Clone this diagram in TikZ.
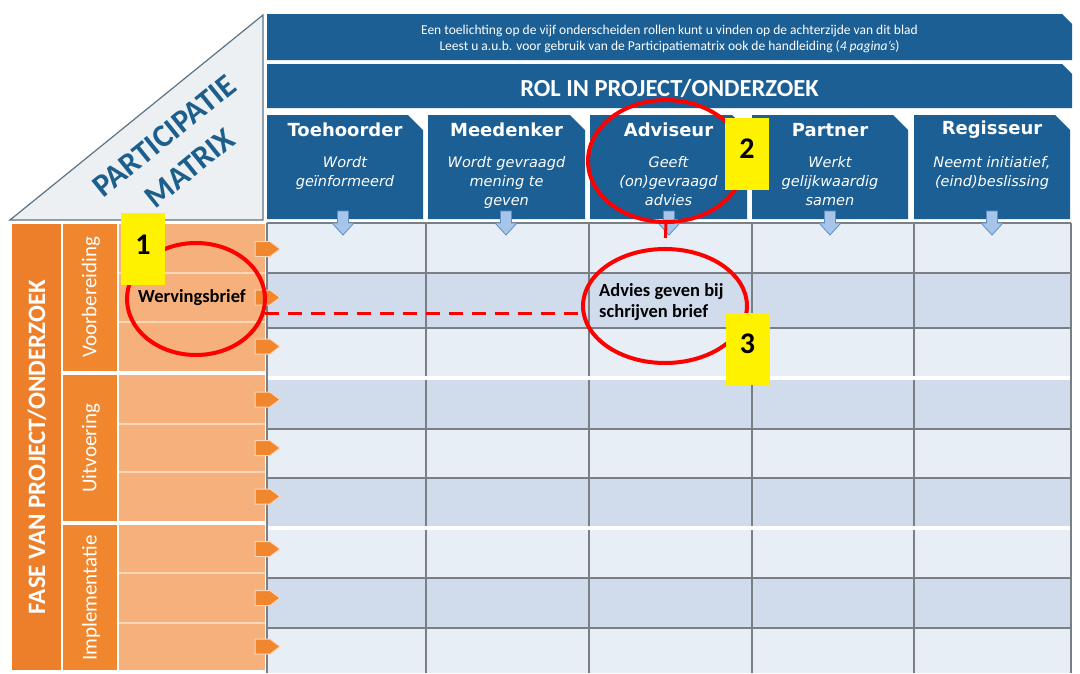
\documentclass[tikz,border=0pt]{standalone}
\usepackage{fontspec}
\setmainfont{Carlito}
\newfontfamily\vfont{DejaVu Sans}
\usetikzlibrary{shapes.geometric}
\definecolor{dblue}{HTML}{1C5F94}
\definecolor{tblue}{HTML}{1D5F8C}
\definecolor{trigray}{HTML}{EDF0F3}
\definecolor{triline}{HTML}{5A7387}
\definecolor{gl}{HTML}{E8EEF6}
\definecolor{gd}{HTML}{D0DCEC}
\definecolor{gline}{HTML}{7A7F86}
\definecolor{orA}{HTML}{EE7F2A}
\definecolor{orB}{HTML}{F0862E}
\definecolor{orL}{HTML}{F5B07C}
\definecolor{orSep}{HTML}{FAD6BA}
\definecolor{arrF}{HTML}{A7C5E8}
\definecolor{arrD}{HTML}{5C8FC7}
\tikzset{
  rolebox/.style={fill=dblue},
  roletitle/.style={text=white, font=\vfont\bfseries\fontsize{18}{20}\selectfont},
  rolesub/.style={text=white, align=center, font=\vfont\itshape\fontsize{14.5}{19}\selectfont, anchor=north, inner sep=0},
  downarr/.style={fill=arrF, draw=arrD, line width=0.8},
  orarr/.style={fill=orB, draw=orSep, line width=1},
  ring/.style={ellipse, draw=red, line width=4, inner sep=0},
  tag/.style={fill=yellow, minimum width=44, minimum height=72, inner sep=0, text height=20pt, text depth=10pt, font=\bfseries\fontsize{30}{30}\selectfont},
  redlink/.style={draw=red, line width=3, dash pattern=on 14pt off 9pt},
  vlabel/.style={rotate=90, text=white}
}
\begin{document}
\begin{tikzpicture}[x=1pt,y=-1pt]
\useasboundingbox (0,0) rectangle (1080,673);
\fill[white] (0,0) rectangle (1080,673);

% triangle
\filldraw[fill=trigray, draw=triline, line width=1.2] (10,220) -- (263,15) -- (263,220) -- cycle;
\node[rotate=39, text=tblue, align=center, inner sep=0, font=\bfseries\fontsize{32}{41}\selectfont] (pm) at (177,152) {PARTICIPATIE\\MATRIX};

% banners
\fill[dblue] (267,14) -- (1062,14) -- (1072,24) -- (1072,60) -- (267,60) -- cycle;
\node[text=white, align=center, font=\fontsize{13.5}{16}\selectfont] (note) at (669.5,38.5)
  {Een toelichting op de vijf onderscheiden rollen kunt u vinden op de achterzijde van dit blad\\
   Leest u a.u.b. voor gebruik van de Participatiematrix ook de handleiding (\textit{4 pagina's})};
\fill[dblue] (267,64) -- (1062,64) -- (1072,74) -- (1072,108) -- (267,108) -- cycle;
\node[text=white, font=\bfseries\fontsize{24.5}{26}\selectfont] (rol) at (669.5,88) {ROL IN PROJECT/ONDERZOEK};

% role boxes
\foreach \a/\b/\nm/\ti/\su in {267/423/toe/Toehoorder/{Wordt\\geïnformeerd},
    428/585/mee/Meedenker/{Wordt gevraagd\\mening te\\geven},
    590/747/adv/Adviseur/{Geeft\\(on)gevraagd\\advies},
    752/908/par/Partner/{Werkt\\gelijkwaardig\\samen},
    914/1070/reg/Regisseur/{Neemt initiatief,\\(eind)beslissing}} {
  \fill[rolebox] (\a,115) -- (\b-15,115) -- (\b,130) -- (\b,219) -- (\a,219) -- cycle;
  \node[roletitle] (\nm-t) at ({(\a+\b)/2},130) {\ti};
  \node[rolesub] (\nm-s) at ({(\a+\b)/2},156) {\su};
}

% grid
\foreach \t/\b/\c in {223/273/gl, 273/328/gd, 328/378/gl, 378/429/gd, 429/478/gl, 478/528/gd, 528/578/gl, 578/628/gd, 628/673/gl}
  \fill[\c] (267,\t) rectangle (1071,\b);
\foreach \y in {223,273,328,429,478,578,628}
  \draw[gline, line width=2] (267,\y) -- (1071,\y);
\foreach \x in {267,426,589,752,914,1071}
  \draw[gline, line width=2] (\x,223) -- (\x,673);
\foreach \y in {378,528}
  \draw[white, line width=4] (268,\y) -- (1070,\y);

% down arrows
\foreach \c in {343,506,669,830,992}
  \filldraw[downarr] (\c-5.5,211) -- (\c+5.5,211) -- (\c+5.5,223) -- (\c+11,223) -- (\c,235) -- (\c-11,223) -- (\c-5.5,223) -- cycle;

% left orange side
\fill[orA] (12,224) rectangle (61,670);
\fill[orB] (63,224) rectangle (117,371);
\fill[orB] (63,375) rectangle (117,521);
\fill[orB] (63,525) rectangle (117,670);
\fill[orL] (119,224) rectangle (265,670);
\foreach \y in {273,322,424,472,573,623}
  \draw[orSep, line width=1.5] (119,\y) -- (265,\y);
\fill[white] (119,371) rectangle (265,375);
\fill[white] (119,521) rectangle (265,525);
\node[vlabel, font=\bfseries\fontsize{25}{26}\selectfont] (fase) at (37,447) {FASE VAN PROJECT/ONDERZOEK};
\node[vlabel, font=\fontsize{21}{22}\selectfont] (vb) at (91,297) {Voorbereiding};
\node[vlabel, font=\fontsize{21}{22}\selectfont] (ui) at (91,448) {Uitvoering};
\node[vlabel, font=\fontsize{21}{22}\selectfont] (im) at (91,598) {Implementatie};

% orange arrows
\foreach \y in {249,297.5,346.5,399.5,448,496.5,549,598,646.5}
  \filldraw[orarr] (255,\y-7.5) -- (270,\y-7.5) -- (280,\y) -- (270,\y+7.5) -- (255,\y+7.5) -- cycle;

% cell texts
\node[font=\bfseries\fontsize{18.5}{20}\selectfont] (werv) at (192,298) {Wervingsbrief};
\node[anchor=west, align=left, font=\bfseries\fontsize{18.5}{21}\selectfont, inner sep=0] (adv) at (599,302) {Advies geven bij\\schrijven brief};

% annotation rings
\node[ring, minimum width=138, minimum height=112] (e1) at (196,299) {};
\node[ring, minimum width=156, minimum height=122] (e2) at (666,161) {};
\node[ring, minimum width=164, minimum height=114] (e3) at (665,306) {};
\coordinate (h1) at (e1.-12);
\draw[redlink] (e2.south) -- (e3.north);
\draw[redlink] (h1) -- (h1 -| e3.west);

% number tags
\node[tag] (n1) at (143,249) {1};
\node[tag] (n2) at (747,153.5) {2};
\node[tag] (n3) at (747.5,348.5) {3};
\end{tikzpicture}
\end{document}
